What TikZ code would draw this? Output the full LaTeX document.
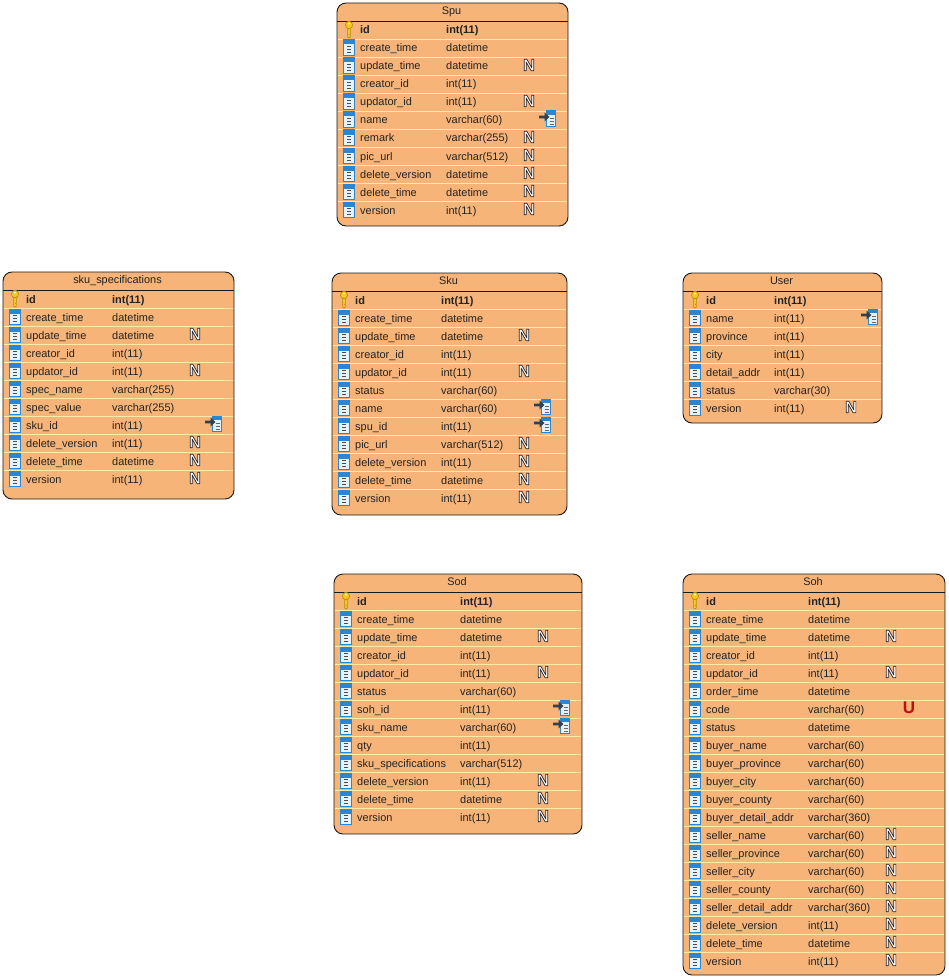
\documentclass[tikz,border=0pt]{standalone}
\usepackage{fontspec}
\setmainfont{Liberation Sans}
\definecolor{tfill}{HTML}{F6B478}
\definecolor{tsep}{HTML}{FFEBA5}
\definecolor{tedge}{HTML}{1A1A1A}
\definecolor{ttext}{HTML}{222222}
\definecolor{cblue}{HTML}{2B85D0}
\definecolor{cbody}{HTML}{E4F2FC}
\definecolor{kgold}{HTML}{F2C81E}
\definecolor{kedge}{HTML}{B58A10}
\definecolor{uredC}{HTML}{C00F0F}
\definecolor{slate}{HTML}{33404D}
\newcommand{\outlineN}{\special{pdf:literal direct 2 Tr 0.7 w 1 j 0.15 0.15 0.18 RG 1 1 1 rg}\textbf{N}\special{pdf:literal direct 0 Tr 0 j}}
\tikzset{
  x=1pt,y=-1pt,
  tablebox/.style={draw=tedge,fill=tfill,line width=0.9pt,rounded corners=9pt},
  titlerule/.style={draw=tedge,line width=0.8pt},
  rowrule/.style={draw=tsep,line width=0.9pt},
  celltext/.style={inner sep=0pt,anchor=base west,text=ttext,font=\fontsize{10.95}{13}\selectfont},
  titletext/.style={inner sep=0pt,anchor=base,text=ttext,font=\fontsize{10.9}{13}\selectfont},
  nullflag/.style={inner sep=0pt,anchor=center,font=\fontsize{16.5}{16.5}\selectfont},
  uniqueflag/.style={inner sep=0pt,anchor=center,text=uredC,font=\fontsize{17}{17}\bfseries\selectfont},
  colicon/.pic={
    \fill[cbody] (-6,-8.5) rectangle (6,8);
    \fill[cblue] (-6,-8.5) rectangle (6,-3.5);
    \fill[cblue] (-6,-8.5) rectangle (-5,8);
    \fill[cblue] (5,-8.5) rectangle (6,8);
    \fill[cblue] (-6,7) rectangle (6,8);
    \draw[line width=1pt,draw=black!70] (-2,-1.5)--(2,-1.5) (-2,1.5)--(2,1.5) (-2,4.5)--(2,4.5);
  },
  keyicon/.pic={
    \draw[draw=kedge,fill=kgold,line width=0.6pt] (-1.4,-1) -- (-1.4,8) -- (0,9) -- (1.4,8) -- (1.4,6) -- (0.6,5.4) -- (1.4,4.6) -- (1.4,-1) -- cycle;
    \draw[draw=kedge,fill=kgold,line width=0.6pt] (0,-4) ellipse (3.6 and 3.8);
    \fill[white] (0,-5.4) ellipse (1.2 and 0.9);
  },
  fkicon/.pic={
    \fill[cbody] (-1,-9.5) rectangle (9,7);
    \fill[cblue] (-1,-9.5) rectangle (9,-5);
    \fill[cblue] (-1,-9.5) rectangle (0,7);
    \fill[cblue] (8,-9.5) rectangle (9,7);
    \fill[cblue] (-1,6) rectangle (9,7);
    \draw[line width=0.9pt,draw=black!60] (2.5,-2)--(6.5,-2) (2.5,1)--(6.5,1) (2.5,4)--(6.5,4);
    \fill[slate] (-8,-4.4) -- (-2.5,-4.4) -- (-2.5,-7.5) -- (2.5,-3) -- (-2.5,1.5) -- (-2.5,-1.6) -- (-8,-1.6) -- cycle;
  }
}
% #1 id, #2 title, #3 x0, #4 x1, #5 y0, #6 y1, #7 name x, #8 type x, #9 N x; then rows
\newcommand{\dbtable}[9]{%
  \def\tid{#1}\def\ttitle{#2}\def\xa{#3}\def\xb{#4}\def\ya{#5}\def\yb{#6}\def\xn{#7}\def\xt{#8}\def\xf{#9}\dbrows}
\newcommand{\dbrows}[1]{%
  \draw[tablebox] (\xa,\ya) rectangle (\xb,\yb);
  \draw[titlerule] (\xa,\ya+18) -- (\xb,\ya+18);
  \node[titletext] (\tid-title) at ({(\xa+\xb)/2-1},\ya+11.5) {\ttitle};
  \foreach \n/\t/\f [count=\i from 0] in {#1}{
    \pgfmathsetmacro{\yc}{\ya+27+18*\i}
    \ifnum\i>0
      \draw[rowrule] (\xa+0.6,\yc-9) -- (\xb-0.6,\yc-9);
      \pic at (\xn-11,\yc) {colicon};
      \node[celltext] (\tid-n\i) at (\xn,\yc+4) {\n};
      \node[celltext] (\tid-t\i) at (\xt,\yc+4) {\t};
    \else
      \pic at (\xn-11,\yc-1) {keyicon};
      \node[celltext,font=\fontsize{10.95}{13}\bfseries\selectfont] (\tid-n\i) at (\xn,\yc+4) {\n};
      \node[celltext,font=\fontsize{10.95}{13}\bfseries\selectfont] (\tid-t\i) at (\xt,\yc+4) {\t};
    \fi
    \if\f N\node[nullflag] (\tid-f\i) at (\xf,\yc-1) {\outlineN};\fi
    \if\f U\node[uniqueflag] (\tid-f\i) at (\xf+18,\yc-1) {U};\fi
    \if\f F\pic at (\xf+18,\yc) {fkicon};\fi
  }%
}
\begin{document}
\begin{tikzpicture}
\useasboundingbox (0,0) rectangle (949,979);
\dbtable{spu}{Spu}{337}{568}{3}{226}{360}{446}{529}{
  id/int(11)/-,create\_time/datetime/-,update\_time/datetime/N,creator\_id/int(11)/-,updator\_id/int(11)/N,name/varchar(60)/F,remark/varchar(255)/N,pic\_url/varchar(512)/N,delete\_version/datetime/N,delete\_time/datetime/N,version/int(11)/N}
\dbtable{spec}{sku\_specifications}{3}{234}{272}{499}{26}{112}{195}{
  id/int(11)/-,create\_time/datetime/-,update\_time/datetime/N,creator\_id/int(11)/-,updator\_id/int(11)/N,spec\_name/varchar(255)/-,spec\_value/varchar(255)/-,sku\_id/int(11)/F,delete\_version/int(11)/N,delete\_time/datetime/N,version/int(11)/N}
\dbtable{sku}{Sku}{332}{567}{273}{515}{355}{441}{524}{
  id/int(11)/-,create\_time/datetime/-,update\_time/datetime/N,creator\_id/int(11)/-,updator\_id/int(11)/N,status/varchar(60)/-,name/varchar(60)/F,spu\_id/int(11)/F,pic\_url/varchar(512)/N,delete\_version/int(11)/N,delete\_time/datetime/N,version/int(11)/N}
\dbtable{user}{User}{683}{882}{273}{423}{706}{774}{851}{
  id/int(11)/-,name/int(11)/F,province/int(11)/-,city/int(11)/-,detail\_addr/int(11)/-,status/varchar(30)/-,version/int(11)/N}
\dbtable{sod}{Sod}{334}{582}{574}{834}{357}{460}{543}{
  id/int(11)/-,create\_time/datetime/-,update\_time/datetime/N,creator\_id/int(11)/-,updator\_id/int(11)/N,status/varchar(60)/-,soh\_id/int(11)/F,sku\_name/varchar(60)/F,qty/int(11)/-,sku\_specifications/varchar(512)/-,delete\_version/int(11)/N,delete\_time/datetime/N,version/int(11)/N}
\dbtable{soh}{Soh}{683}{945}{574}{975}{706}{808}{891}{
  id/int(11)/-,create\_time/datetime/-,update\_time/datetime/N,creator\_id/int(11)/-,updator\_id/int(11)/N,order\_time/datetime/-,code/varchar(60)/U,status/datetime/-,buyer\_name/varchar(60)/-,buyer\_province/varchar(60)/-,buyer\_city/varchar(60)/-,buyer\_county/varchar(60)/-,buyer\_detail\_addr/varchar(360)/-,seller\_name/varchar(60)/N,seller\_province/varchar(60)/N,seller\_city/varchar(60)/N,seller\_county/varchar(60)/N,seller\_detail\_addr/varchar(360)/N,delete\_version/int(11)/N,delete\_time/datetime/N,version/int(11)/N}
\end{tikzpicture}
\end{document}
